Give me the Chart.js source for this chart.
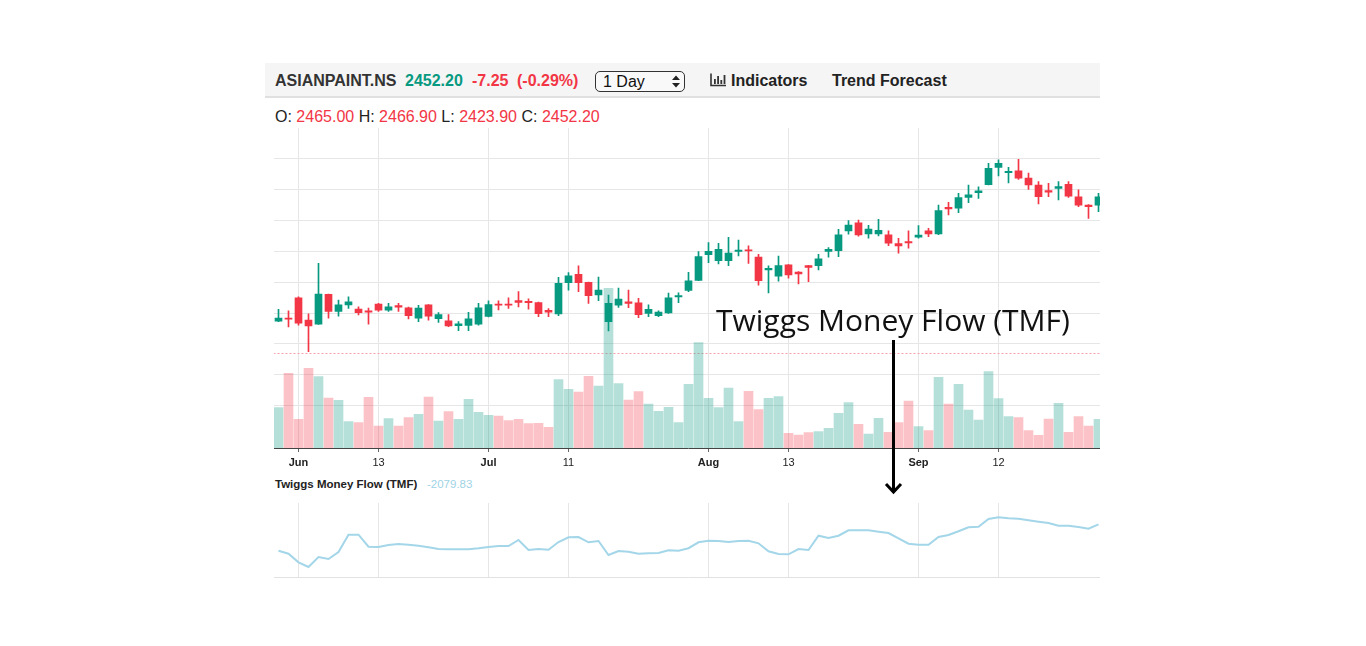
<!DOCTYPE html>
<html>
<head>
<meta charset="utf-8">
<script src="https://cdn.jsdelivr.net/npm/chart.js@4.4.0/dist/chart.umd.min.js"></script>
<style>
  body { margin: 0; width: 1366px; height: 646px; background: #fff; position: relative; overflow: hidden;
         font-family: "Liberation Sans", Arial, sans-serif; }
  .abs { position: absolute; white-space: nowrap; }
  #toolbar { left: 265px; top: 63px; width: 835px; height: 33px; background: #f5f5f5; border-bottom: 2px solid #e0e0e0; }
  .hd { top: 71px; line-height: 20px; font-size: 16px; font-weight: bold; }
  #sel { left: 595px; top: 71px; width: 88px; height: 19px; border: 1.5px solid #333; border-radius: 5px; background: #f9f9f9; }
  #sel span { position: absolute; left: 7px; top: 0; line-height: 19px; font-size: 16px; color: #111; }
  #ohlc { left: 275px; top: 107px; line-height: 20px; font-size: 16px; color: #222; }
  #ohlc b { font-weight: normal; color: #f23645; }
  #note { left: 716px; top: 305px; font-family: "Open Sans", "Noto Sans", sans-serif; font-size: 30px; line-height: 30px; color: #111; }
  #tmfLabel { left: 275px; top: 477px; font-size: 11.5px; line-height: 14px; font-weight: bold; color: #222; }
  #tmfValue { left: 427px; top: 477px; font-size: 11.5px; line-height: 14px; color: #9fd3e6; }
  .wrap { position: absolute; overflow: hidden; }
  .wrap canvas { position: absolute; left: -1px; top: 0; }
</style>
</head>
<body>
<div id="toolbar" class="abs"></div>
<div class="abs hd" style="left:275px;color:#333">ASIANPAINT.NS</div>
<div class="abs hd" style="left:405px;color:#089981">2452.20</div>
<div class="abs hd" style="left:472px;color:#f23645">-7.25</div>
<div class="abs hd" style="left:517px;color:#f23645">(-0.29%)</div>
<div id="sel" class="abs"><span>1 Day</span>
  <svg style="position:absolute;left:75px;top:2px" width="10" height="15">
    <path d="M1 6 L5 1.5 L9 6 Z M1 9 L5 13.5 L9 9 Z" fill="#222"/>
  </svg>
</div>
<svg class="abs" style="left:710px;top:73px" width="17" height="14">
  <path d="M1 0.5 V12.5 H16" stroke="#333" stroke-width="1.6" fill="none"/>
  <rect x="4" y="6" width="1.8" height="5" fill="#333"/>
  <rect x="7.2" y="3" width="1.8" height="8" fill="#333"/>
  <rect x="10.4" y="7" width="1.8" height="4" fill="#333"/>
  <rect x="13.6" y="2" width="1.8" height="9" fill="#333"/>
</svg>
<div class="abs hd" style="left:731px;color:#222">Indicators</div>
<div class="abs hd" style="left:832px;color:#222">Trend Forecast</div>
<div id="ohlc" class="abs">O: <b>2465.00</b> H: <b>2466.90</b> L: <b>2423.90</b> C: <b>2452.20</b></div>

<div class="wrap" style="left:274px;top:128px;width:826px;height:345px">
  <canvas id="main" width="831" height="342" style="width:831px;height:342px"></canvas>
</div>
<div id="tmfLabel" class="abs">Twiggs Money Flow (TMF)</div>
<div id="tmfValue" class="abs">-2079.83</div>
<div class="wrap" style="left:274px;top:503px;width:826px;height:76px">
  <canvas id="tmf" width="831" height="76" style="width:831px;height:76px"></canvas>
</div>

<div id="note" class="abs">Twiggs Money Flow (TMF)</div>
<svg class="abs" style="left:880px;top:338px" width="28" height="160">
  <line x1="13.5" y1="2" x2="13.5" y2="154" stroke="#000" stroke-width="3"/>
  <polyline points="6,146 13.5,154 21,146" fill="none" stroke="#000" stroke-width="3"/>
</svg>

<script>
// daily candles, Jun - Sep
var open = [2374, 2384, 2449, 2377, 2364, 2460, 2405, 2426, 2413, 2407,
    2429, 2409, 2424, 2417, 2383, 2426, 2382, 2375, 2359, 2360,
    2364, 2389, 2429, 2429, 2440, 2438, 2434, 2409, 2397, 2498,
    2525, 2499, 2458, 2372, 2425, 2436, 2433, 2399, 2391, 2400,
    2452, 2473, 2505, 2588, 2569, 2569, 2599, 2604, 2580, 2539,
    2519, 2555, 2532, 2553, 2553, 2599, 2601, 2665, 2691, 2655,
    2655, 2652, 2624, 2630, 2645, 2665, 2655, 2741, 2738, 2773,
    2788, 2814, 2870, 2853, 2859, 2835, 2813, 2795, 2802, 2815,
    2775, 2748, 2748];
var high = [2412, 2407, 2452, 2397, 2560, 2461, 2442, 2452, 2420, 2416,
    2431, 2431, 2431, 2419, 2425, 2427, 2401, 2395, 2372, 2402,
    2431, 2439, 2439, 2449, 2469, 2446, 2435, 2414, 2515, 2530,
    2552, 2500, 2516, 2458, 2480, 2474, 2447, 2426, 2407, 2464,
    2465, 2531, 2598, 2627, 2625, 2644, 2635, 2617, 2589, 2552,
    2584, 2556, 2534, 2554, 2589, 2611, 2670, 2698, 2700, 2683,
    2702, 2665, 2641, 2665, 2682, 2673, 2748, 2757, 2786, 2813,
    2807, 2883, 2894, 2870, 2896, 2851, 2824, 2818, 2824, 2824,
    2797, 2750, 2786];
var low = [2372, 2355, 2361, 2275, 2363, 2383, 2390, 2415, 2394, 2364,
    2405, 2405, 2405, 2381, 2372, 2377, 2370, 2356, 2343, 2343,
    2361, 2387, 2410, 2415, 2420, 2412, 2388, 2388, 2391, 2474,
    2469, 2431, 2440, 2342, 2418, 2417, 2385, 2388, 2388, 2399,
    2433, 2469, 2504, 2562, 2558, 2553, 2584, 2560, 2490, 2465,
    2503, 2512, 2494, 2501, 2539, 2580, 2582, 2654, 2648, 2641,
    2649, 2617, 2593, 2609, 2641, 2646, 2653, 2716, 2724, 2756,
    2770, 2813, 2842, 2820, 2831, 2799, 2752, 2775, 2765, 2773,
    2743, 2705, 2727];
var close = [2384, 2380, 2367, 2358, 2461, 2405, 2426, 2436, 2401, 2403,
    2409, 2420, 2419, 2391, 2416, 2390, 2395, 2358, 2365, 2381,
    2417, 2427, 2425, 2425, 2434, 2433, 2398, 2403, 2496, 2520,
    2498, 2456, 2474, 2431, 2445, 2431, 2395, 2412, 2403, 2449,
    2456, 2504, 2582, 2599, 2605, 2593, 2603, 2600, 2504, 2544,
    2553, 2523, 2526, 2547, 2575, 2605, 2652, 2684, 2652, 2671,
    2667, 2625, 2616, 2626, 2651, 2655, 2730, 2736, 2772, 2781,
    2794, 2867, 2883, 2857, 2835, 2813, 2775, 2790, 2808, 2777,
    2748, 2743, 2775];
// volume in thousands
var volume = [806, 1494, 574, 1594, 1426, 1000, 954, 526, 506, 1014,
    440, 586, 440, 606, 674, 1020, 540, 726, 574, 974,
    714, 654, 640, 546, 574, 486, 494, 414, 1366, 1174,
    1120, 1434, 1240, 3194, 1286, 960, 1126, 880, 734, 814,
    506, 1274, 2106, 994, 806, 1200, 526, 1134, 766, 994,
    1026, 294, 260, 306, 326, 394, 694, 906, 474, 280,
    594, 314, 506, 940, 426, 346, 1414, 880, 1274, 760,
    560, 1526, 986, 626, 606, 346, 254, 580, 894, 314,
    626, 440, 574];
var tmf = [-47, -147, -433, -590, -257, -323, -90, 487, 487, 87,
    77, 143, 177, 153, 120, 67, 10, 0, 0, 0,
    33, 77, 110, 110, 310, -23, 10, -13, 243, 400,
    410, 233, 277, -190, -57, -80, -147, -133, -123, -33,
    -47, 37, 233, 287, 277, 243, 277, 287, 200, -67,
    -157, -167, 10, -23, 453, 377, 453, 633, 633, 633,
    587, 543, 367, 187, 153, 153, 410, 477, 600, 733,
    753, 1010, 1067, 1033, 1020, 967, 920, 877, 787, 787,
    743, 687, 833];

var tickIdx = [2, 10, 21, 29, 43, 51, 64, 72];
var tickText = ['Jun', '13', 'Jul', '11', 'Aug', '13', 'Sep', '12'];
var monthNames = ['Jun', 'Jul', 'Aug', 'Sep'];
var priceLine = 2270;

var UP = '#089981', DOWN = '#f23645';
var labels = open.map(function (v, i) { return String(i); });
var isUp = open.map(function (v, i) { return close[i] >= v; });
var candleColor = isUp.map(function (u) { return u ? UP : DOWN; });
var volColor = isUp.map(function (u) { return u ? 'rgba(8,153,129,0.3)' : 'rgba(242,54,69,0.3)'; });

var gridColor = '#e6e6e6';
var xGridColor = function (ctx) { return tickIdx.indexOf(ctx.index) >= 0 ? gridColor : 'rgba(0,0,0,0)'; };

var priceLinePlugin = {
    id: 'priceLine',
    beforeDatasetsDraw: function (chart) {
        var c = chart.ctx, area = chart.chartArea;
        var y = Math.round(chart.scales.y.getPixelForValue(priceLine)) + 0.5;
        c.save();
        c.strokeStyle = '#f7a1a8';
        c.lineWidth = 1;
        c.setLineDash([2, 2]);
        c.beginPath();
        c.moveTo(area.left, y);
        c.lineTo(area.right, y);
        c.stroke();
        c.restore();
    }
};

var xScale = {
    type: 'category',
    offset: true,
    border: { display: true, color: '#444', width: 1 },
    grid: { offset: false, color: xGridColor, tickColor: function (ctx) {
        return tickIdx.indexOf(ctx.index) >= 0 ? '#666' : 'rgba(0,0,0,0)'; }, tickLength: 4 },
    ticks: {
        autoSkip: false, maxRotation: 0, padding: 4, color: '#222',
        callback: function (v, i) { var k = tickIdx.indexOf(i); return k >= 0 ? tickText[k] : ''; },
        font: function (ctx) {
            var k = tickIdx.indexOf(ctx.index);
            var bold = k >= 0 && monthNames.indexOf(tickText[k]) >= 0;
            return { family: 'Liberation Sans', size: 11, weight: bold ? 'bold' : 'normal' };
        }
    },
    afterFit: function (s) { s.height = 22; }
};

new Chart(document.getElementById('main'), {
    type: 'bar',
    data: {
        labels: labels,
        datasets: [
            { label: 'Body', data: open.map(function (v, i) { return [v, close[i]]; }),
              backgroundColor: candleColor, barThickness: 7, minBarLength: 1, grouped: false, order: 1, yAxisID: 'y' },
            { label: 'Wick', data: low.map(function (v, i) { return [v, high[i]]; }),
              backgroundColor: candleColor, barThickness: 1, grouped: false, order: 2, yAxisID: 'y' },
            { label: 'Volume', data: volume,
              backgroundColor: volColor, barThickness: 9, grouped: false, order: 3, yAxisID: 'v' }
        ]
    },
    options: {
        responsive: false,
        animation: false,
        devicePixelRatio: 1,
        layout: { padding: { left: 0.5, right: 0.5, top: 0, bottom: 0 } },
        plugins: { legend: { display: false }, tooltip: { enabled: false } },
        scales: {
            x: xScale,
            y: {
                min: 1964.5, max: 2996.8,
                ticks: { display: false, stepSize: 100 },
                border: { display: false },
                grid: { drawTicks: false, color: function (ctx) {
                    return ctx.tick.value % 100 === 0 ? gridColor : 'rgba(0,0,0,0)'; } }
            },
            v: { display: false, min: 0, max: 6400 }
        }
    },
    plugins: [priceLinePlugin]
});

new Chart(document.getElementById('tmf'), {
    type: 'line',
    data: {
        labels: labels,
        datasets: [{ label: 'TMF', data: tmf, borderColor: '#a3d6e8', borderWidth: 2,
                     pointRadius: 0, tension: 0, fill: false }]
    },
    options: {
        responsive: false,
        animation: false,
        devicePixelRatio: 1,
        layout: { padding: { left: 0.5, right: 0.5, top: 0, bottom: 2 } },
        plugins: { legend: { display: false }, tooltip: { enabled: false } },
        scales: {
            x: {
                type: 'category', offset: true,
                border: { display: true, color: '#e2e2e2', width: 1 },
                grid: { offset: false, drawTicks: false, color: xGridColor },
                ticks: { display: false, autoSkip: false }
            },
            y: {
                min: -923, max: 1543,
                ticks: { display: false, stepSize: 1000 },
                border: { display: false },
                grid: { drawTicks: false, color: function (ctx) {
                    return ctx.tick.value % 1000 === 0 ? gridColor : 'rgba(0,0,0,0)'; } }
            }
        }
    }
});
</script>
</body>
</html>
